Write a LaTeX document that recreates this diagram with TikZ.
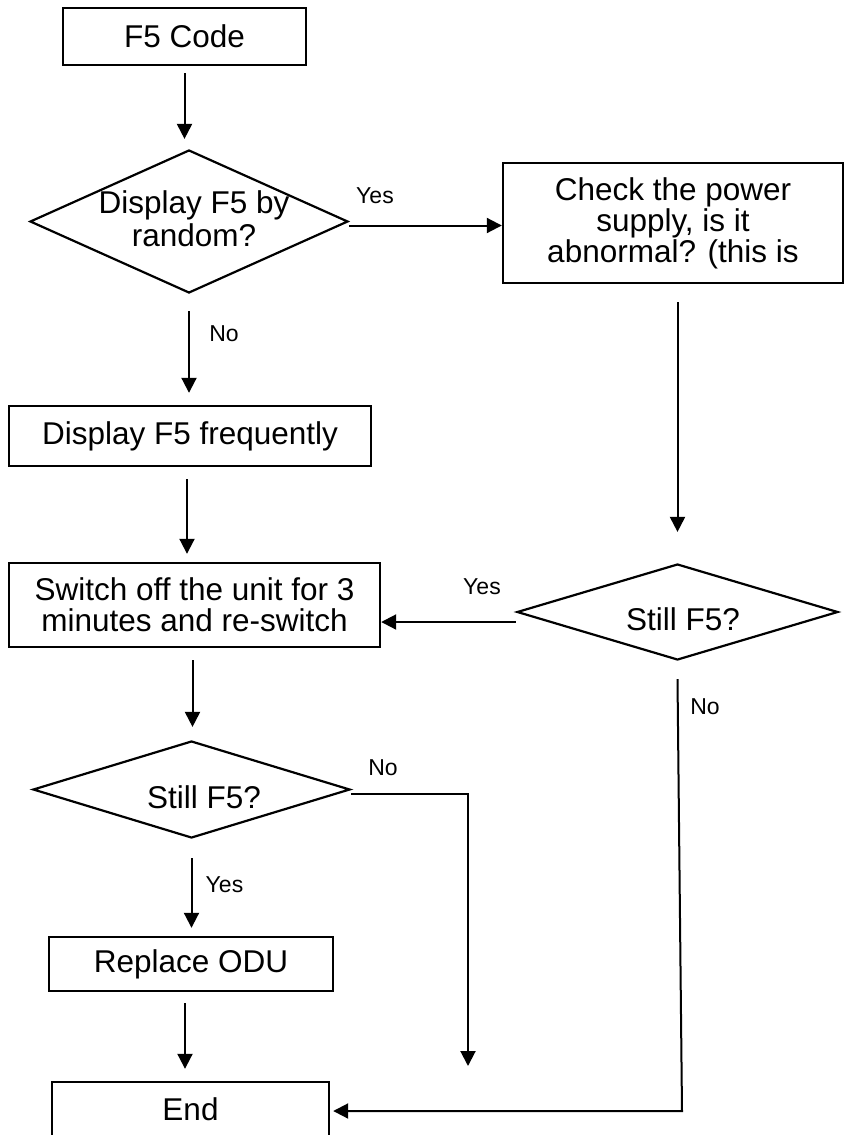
\documentclass[tikz,border=0pt]{standalone}
\usepackage{fontspec}
\setmainfont{Liberation Sans}
\usetikzlibrary{shapes.geometric,arrows.meta,calc}
\newcommand\mainf{\fontsize{31.5}{31}\selectfont}
\newcommand\lblf{\fontsize{23}{25}\selectfont}
\begin{document}
\begin{tikzpicture}[x=1pt,y=-1pt,
  box/.style={draw, line width=2.4pt, rectangle, inner sep=0pt, align=center, font=\mainf},
  dia/.style={draw, line width=2.2pt, diamond, inner sep=0pt},
  txt/.style={inner sep=0pt, align=center, font=\mainf, anchor=base},
  lbl/.style={inner sep=0pt, font=\lblf},
  arr/.style={line width=2pt, -{Triangle[length=15pt,width=15pt]}},
  ln/.style={line width=2pt}]
\useasboundingbox (0,0) rectangle (844,1135);
\clip (0,0) rectangle (844,1135);

% nodes
\node[box, minimum width=243pt, minimum height=57pt] (start) at (184.5,36.5) {F5 Code};
\node[dia, minimum width=318pt, minimum height=143pt] (d1) at (189,221.5) {};
\node[txt, font=\fontsize{31.5}{33}\selectfont] (d1t) at (194,246) {Display F5 by\\random?};
\node[box, minimum width=340pt, minimum height=120pt] (chk) at (673,223) {Check the power\\supply, is it\\abnormal? (this is};
\node[box, minimum width=362pt, minimum height=60pt] (freq) at (190,436) {Display F5 frequently};
\node[box, minimum width=371pt, minimum height=84pt] (sw) at (194.5,605) {Switch off the unit for 3\\minutes and re-switch};
\node[dia, minimum width=321pt, minimum height=96pt] (d2) at (677.5,612) {};
\node[txt] (d2t) at (683,630) {Still F5?};
\node[dia, minimum width=317pt, minimum height=97pt] (d3) at (191.5,789.5) {};
\node[txt] (d3t) at (204,808) {Still F5?};
\node[box, minimum width=284pt, minimum height=54pt] (odu) at (191,964) {Replace ODU};
\node[box, minimum width=277pt, minimum height=55pt] (end) at (190.5,1109.5) {End};

% labels
\node[lbl] (l1) at (375,196) {Yes};
\node[lbl] (l2) at (224,334) {No};
\node[lbl] (l3) at (482,587) {Yes};
\node[lbl] (l4) at (705,707) {No};
\node[lbl] (l5) at (383,767.5) {No};
\node[lbl] (l6) at (224.5,885) {Yes};

% coordinates
\coordinate (c1) at (468,793.5);
\coordinate (c2) at (468,1066);
\coordinate (c3) at (682,1111);

% connectors
\draw[arr, shorten <=7pt, shorten >=10pt] (start.south) -- (start.south |- d1.north);
\draw[arr] ([yshift=-4pt]d1.east) -- ([yshift=-4pt]d1.east -| chk.west);
\draw[arr, shorten <=17pt, shorten >=12pt] (d1.south) -- (d1.south |- freq.north);
\draw[arr, shorten <=12pt, shorten >=8pt] ([xshift=-3pt]freq.south) -- ([xshift=-3pt]freq.south |- sw.north);
\draw[arr, shorten <=18pt, shorten >=31pt] (d2.north |- chk.south) -- (d2.north);
\draw[arr] ([yshift=-10pt]d2.west) -- ([yshift=-10pt]d2.west -| sw.east);
\draw[arr, shorten <=12pt, shorten >=13pt] ([xshift=-2pt]sw.south) -- ([xshift=-2pt]sw.south |- d3.north);
\draw[arr] ([yshift=-4pt]d3.east) -- (c1) -- (c2);
\draw[arr, shorten <=19pt, shorten >=8pt] (d3.south) -- (d3.south |- odu.north);
\draw[arr, shorten <=11pt, shorten >=12pt] ([xshift=-6pt]odu.south) -- ([xshift=-6pt]odu.south |- end.north);
\draw[arr, shorten >=3pt] ([yshift=-18pt]d2.south) -- (c3) -- (c3 -| end.east);
\end{tikzpicture}
\end{document}
